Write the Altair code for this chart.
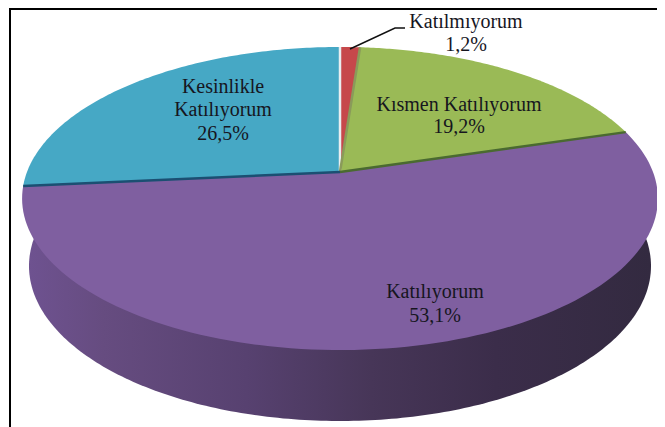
import numpy as np
import altair as alt

labels = ["Katılmıyorum", "Kısmen Katılıyorum", "Katılıyorum", "Kesinlikle Katılıyorum"]
shares = [1.2, 19.2, 53.1, 26.5]
colors = ["#C6484B", "#9ABA56", "#7F5FA0", "#46A8C5"]
edge_colors = ["#E8EEF0", "#8A9A5A", "#4A6A30", "#1B4F72"]

label_rows = [
    ("Katılmıyorum", 466, 22, 20),
    ("1,2%", 466, 45, 20),
    ("Kısmen Katılıyorum", 459, 105, 20),
    ("19,2%", 459, 127, 20),
    ("Kesinlikle", 223, 87, 20),
    ("Katılıyorum", 223, 110, 20),
    ("26,5%", 223, 134, 20),
    ("Katılıyorum", 435, 292, 20),
    ("53,1%", 435, 316, 20),
]

O = 8  # page margin
APEX = (340.0, 172.0)
RX, RY, K = 313.0, 146.9, 0.175
DEPTH_C = (340.0, 266.0)
DEPTH_R = (311.0, 155.0)


def rim(theta):
    d = 1 + K * np.cos(theta)
    return (APEX[0] + RX * np.sin(theta) / d, APEX[1] - RY * np.cos(theta) / d)


def pt(x, y):
    return [float(x) - O, float(y) - O]


def feature(kind, coords, name):
    return {"type": "Feature", "geometry": {"type": kind, "coordinates": coords},
            "properties": {"name": name}}


edges = np.cumsum([0] + shares) / 100 * 2 * np.pi
wedges = []
spokes = []
for i, name in enumerate(labels):
    ts = np.linspace(edges[i], edges[i + 1], 120)
    ring = [pt(*APEX)] + [pt(*rim(t)) for t in ts] + [pt(*APEX)]
    wedges.append(feature("Polygon", [ring], name))
    spokes.append(feature("LineString", [pt(*APEX), pt(*rim(edges[i]))], edge_colors[i]))

ts = np.linspace(0, 2 * np.pi, 360)
base_ring = [pt(DEPTH_C[0] + DEPTH_R[0] * np.sin(t), DEPTH_C[1] - DEPTH_R[1] * np.cos(t)) for t in ts]
base = [feature("Polygon", [base_ring], "wall")]

frame = [feature("LineString", [pt(10, 427), pt(10, 9), pt(658, 9)], "frame")]
leader = [feature("LineString", [pt(350, 49), pt(395, 28), pt(405, 28)], "leader")]

wall_fill = alt.Gradient(
    gradient="linear", x1=0, x2=1, y1=0, y2=0,
    stops=[
        alt.GradientStop(offset=0.0, color="#6E5290"),
        alt.GradientStop(offset=0.12, color="#664C80"),
        alt.GradientStop(offset=0.35, color="#574170"),
        alt.GradientStop(offset=0.55, color="#473658"),
        alt.GradientStop(offset=0.75, color="#3B2D4A"),
        alt.GradientStop(offset=1.0, color="#332A40"),
    ],
)

base_layer = alt.Chart(alt.Data(values=base)).mark_geoshape(fill=wall_fill, stroke=None)
wedge_layer = alt.Chart(alt.Data(values=wedges)).mark_geoshape(strokeWidth=0).encode(
    color=alt.Color("properties.name:N", scale=alt.Scale(domain=labels, range=colors), legend=None)
)
spoke_layer = alt.Chart(alt.Data(values=spokes)).mark_geoshape(filled=False, strokeWidth=2.5).encode(
    stroke=alt.Color("properties.name:N", scale=None)
)
frame_layer = alt.Chart(alt.Data(values=frame)).mark_geoshape(filled=False, stroke="#000000", strokeWidth=2)
leader_layer = alt.Chart(alt.Data(values=leader)).mark_geoshape(filled=False, stroke="#111111", strokeWidth=1.5)

text_values = [{"t": t, "lon": x - O, "lat": y - O, "s": s} for t, x, y, s in label_rows]
text_layer = alt.Chart(alt.Data(values=text_values)).mark_text(
    font="Liberation Serif", color="#16161E", align="center", baseline="middle"
).encode(
    longitude="lon:Q", latitude="lat:Q", text="t:N",
    size=alt.Size("s:Q", scale=None, legend=None),
)

chart = alt.layer(
    frame_layer, base_layer, wedge_layer, spoke_layer, leader_layer, text_layer
).project(type="identity", scale=1, translate=[0, 0]).properties(
    width=649, height=419, padding=0, autosize=alt.AutoSizeParams(type="none"),
    background="#FFFFFF",
).configure_view(stroke=None)

chart.save("out.html", embed_options={"renderer": "svg", "actions": False})
